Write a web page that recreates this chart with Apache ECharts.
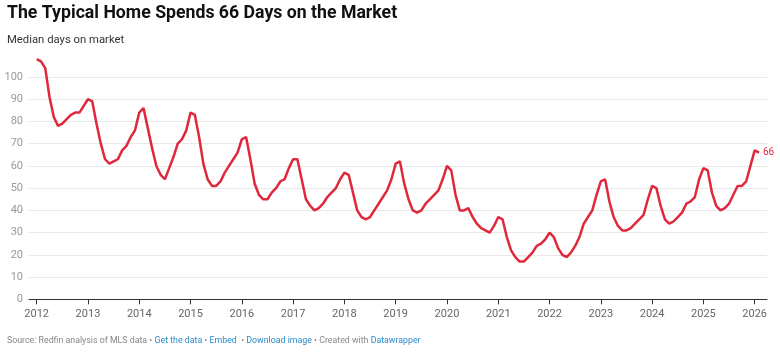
<!DOCTYPE html>
<html>
<head>
<meta charset="utf-8">
<script src="https://cdn.jsdelivr.net/npm/echarts@6/dist/echarts.min.js"></script>
<style>
  html, body { margin: 0; padding: 0; background: #fff; }
  #main { width: 780px; height: 354px; }
</style>
</head>
<body>
<div id="main"></div>
<script>
// median days on market, monthly, Jan 2012 - Feb 2026
const startYear = 2012
const days2012 = [108, 107, 104, 91, 82, 78, 79, 81, 83, 84, 84, 87]
const days2013 = [90, 89, 79, 70, 63, 61, 62, 63, 67, 69, 73, 76]
const days2014 = [84, 86, 77, 68, 60, 56, 54, 59, 64, 70, 72, 76]
const days2015 = [84, 83, 73, 61, 54, 51, 51, 53, 57, 60, 63, 66]
const days2016 = [72, 73, 63, 52, 47, 45, 45, 48, 50, 53, 54, 59]
const days2017 = [63, 63, 54, 45, 42, 40, 41, 43, 46, 48, 50, 54]
const days2018 = [57, 56, 48, 40, 37, 36, 37, 40, 43, 46, 49, 54]
const days2019 = [61, 62, 52, 45, 40, 39, 40, 43, 45, 47, 49, 54]
const days2020 = [60, 58, 47, 40, 40, 41, 37, 34, 32, 31, 30, 33]
const days2021 = [37, 36, 28, 22, 19, 17, 17, 19, 21, 24, 25, 27]
const days2022 = [30, 28, 23, 20, 19, 21, 24, 28, 34, 37, 40, 47]
const days2023 = [53, 54, 44, 37, 33, 31, 31, 32, 34, 36, 38, 45]
const days2024 = [51, 50, 42, 36, 34, 35, 37, 39, 43, 44, 46, 54]
const days2025 = [59, 58, 48, 42, 40, 41, 43, 47, 51, 51, 53, 60]
const days2026 = [67, 66]

const yearTicks = [2012, 2013, 2014, 2015, 2016, 2017, 2018, 2019, 2020, 2021, 2022, 2023, 2024, 2025, 2026]

const allDays = [].concat(days2012, days2013, days2014, days2015, days2016, days2017,
  days2018, days2019, days2020, days2021, days2022, days2023, days2024, days2025, days2026)

// x = year + month/12
const seriesData = allDays.map((v, i) => [startYear + i / 12, v])

const lineColor = '#e0283c'
const font = 'Roboto'

let myChart = echarts.init(document.getElementById('main'))

let option = {
  animation: false,
  textStyle: { fontFamily: font },
  title: {
    text: 'The Typical Home Spends 66 Days on the Market',
    subtext: 'Median days on market',
    left: 2,
    top: 0,
    itemGap: 12,
    textStyle: { fontFamily: font, fontSize: 17.7, fontWeight: 'bold', color: '#111' },
    subtextStyle: { fontFamily: font, fontSize: 11.3, color: '#333' }
  },
  grid: {
    left: 29,
    right: 13,
    top: 77,
    bottom: 54.7
  },
  xAxis: {
    type: 'value',
    min: 2011.85,
    max: 2026.24,
    splitLine: { show: false },
    axisLine: { show: true, lineStyle: { color: '#333', width: 1 } },
    axisTick: {
      show: true,
      length: 5,
      customValues: yearTicks,
      lineStyle: { color: '#333' }
    },
    axisLabel: {
      customValues: yearTicks,
      formatter: v => String(v),
      color: '#666',
      fontSize: 11,
      margin: 9
    }
  },
  yAxis: {
    type: 'value',
    min: 0,
    max: 100,
    interval: 10,
    axisLine: { show: false },
    axisTick: { show: false },
    axisLabel: { color: '#999', fontSize: 11, margin: 6 },
    splitLine: { lineStyle: { color: '#e8e8e8', width: 1 } }
  },
  series: [
    {
      type: 'line',
      data: seriesData,
      symbol: 'none',
      clip: false,
      lineStyle: { color: lineColor, width: 2.5 },
      endLabel: {
        show: true,
        formatter: p => String(p.value[1]),
        color: lineColor,
        fontSize: 10,
        distance: 4
      }
    }
  ],
  graphic: [
    {
      type: 'text',
      left: 7,
      top: 336,
      style: {
        text: '{g|Source: Redfin analysis of MLS data • }{b|Get the data}{g| • }{b|Embed}{g|  • }{b|Download image}{g| • Created with }{b|Datawrapper}',
        rich: {
          g: { fontFamily: font, fontSize: 8.8, fill: '#888' },
          b: { fontFamily: font, fontSize: 8.8, fill: '#2a8bc9' }
        }
      }
    }
  ]
}

myChart.setOption(option)
</script>
</body>
</html>
